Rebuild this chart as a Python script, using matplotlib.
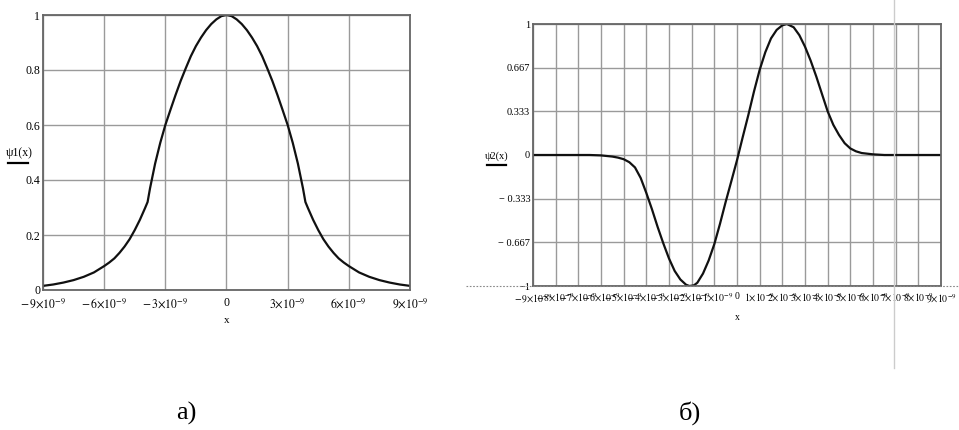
import numpy as np
import matplotlib
matplotlib.use("Agg")
import matplotlib.pyplot as plt
from matplotlib.lines import Line2D

plt.rcParams['mathtext.fontset'] = 'stix'
plt.rcParams['font.family'] = ['Liberation Serif', 'DejaVu Serif']

# ---- data (x in units of 1e-9) ----
x1_n = [-9, -8.5, -8, -7.5, -7, -6.5, -6, -5.75, -5.5, -5.25, -5, -4.75, -4.5, -4.25, -4,
        -3.87, -3.75, -3.5, -3.25, -3, -2.75, -2.5, -2.25, -2, -1.75, -1.5, -1.25, -1,
        -0.75, -0.5, -0.25, 0,
        0.25, 0.5, 0.75, 1, 1.25, 1.5, 1.75, 2, 2.25, 2.5, 2.75, 3, 3.25, 3.5, 3.75, 3.87,
        4, 4.25, 4.5, 4.75, 5, 5.25, 5.5, 5.75, 6, 6.5, 7, 7.5, 8, 8.5, 9]
psi1 = [0.015, 0.02, 0.027, 0.036, 0.048, 0.064, 0.087, 0.10, 0.115, 0.135, 0.158, 0.185,
        0.218, 0.255, 0.297, 0.32, 0.37, 0.46, 0.535, 0.6, 0.655, 0.709, 0.76, 0.806,
        0.85, 0.887, 0.918, 0.945, 0.967, 0.984, 0.996, 1.0,
        0.996, 0.984, 0.967, 0.945, 0.918, 0.887, 0.85, 0.806, 0.76, 0.709, 0.655, 0.6,
        0.535, 0.46, 0.37, 0.32, 0.297, 0.255, 0.218, 0.185, 0.158, 0.135, 0.115, 0.10,
        0.087, 0.064, 0.048, 0.036, 0.027, 0.02, 0.015]

x2_n = [-9, -8, -7, -6.5, -6, -5.5, -5.25, -5, -4.75, -4.5, -4.25, -4, -3.75, -3.5, -3.25,
        -3, -2.75, -2.5, -2.25, -2.1, -1.9, -1.75, -1.5, -1.25, -1, -0.75, -0.5, -0.25,
        0, 0.25, 0.5, 0.75, 1, 1.25, 1.5, 1.75, 2, 2.2, 2.5, 2.75, 3, 3.25, 3.5, 3.75,
        4, 4.25, 4.5, 4.75, 5, 5.25, 5.5, 6, 6.5, 7, 8, 9]
psi2 = [0, 0, 0, 0, -0.003, -0.012, -0.02, -0.032, -0.055, -0.095, -0.175, -0.29, -0.415,
        -0.55, -0.675, -0.79, -0.885, -0.95, -0.99, -1.0, -0.995, -0.975, -0.905, -0.805,
        -0.68, -0.525, -0.358, -0.20, -0.04, 0.135, 0.305, 0.485, 0.65, 0.785, 0.89,
        0.955, 0.99, 1.0, 0.975, 0.915, 0.827, 0.72, 0.598, 0.465, 0.333, 0.23, 0.153,
        0.09, 0.05, 0.028, 0.015, 0.005, 0.0, 0, 0, 0]

x1_ticks_n = [-9, -6, -3, 0, 3, 6, 9]
y1_ticks = [0, 0.2, 0.4, 0.6, 0.8, 1]
y1_labels = ["0", "0.2", "0.4", "0.6", "0.8", "1"]

x2_ticks_n = list(range(-9, 10))
y2_ticks = [-1, -2/3, -1/3, 0, 1/3, 2/3, 1]
y2_labels = ["\u22121", "\u2212 0.667", "\u2212 0.333", "0", "0.333", "0.667", "1"]

SC = 1e-9
x1 = np.array(x1_n) * SC
x2 = np.array(x2_n) * SC


def xlab(v):
    if v == 0:
        return "0"
    if v < 0:
        return r"$-\,%d{\times}10^{-9}$" % (-v)
    return r"$%d{\times}10^{-9}$" % v


W, H = 959, 430
fig = plt.figure(figsize=(W / 100, H / 100), dpi=100)
fig.patch.set_facecolor('white')


def fr(x0, y0, x1p, y1p):
    return [x0 / W, 1 - y1p / H, (x1p - x0) / W, (y1p - y0) / H]


grid_c = '#9a9a9a'
frame_c = '#666666'


def style(ax):
    for s in ax.spines.values():
        s.set_color(frame_c)
        s.set_linewidth(1.3)
    ax.tick_params(length=0, colors='black')
    ax.grid(True, color=grid_c, linewidth=1.0)
    ax.set_axisbelow(True)


# ---- left chart ----
ax1 = fig.add_axes(fr(43, 15, 410, 290))
ax1.plot(x1, psi1, color='#111111', lw=1.6)
ax1.set_xlim(-9 * SC, 9 * SC)
ax1.set_ylim(0, 1)
ax1.set_xticks(np.array(x1_ticks_n) * SC)
ax1.set_xticklabels([xlab(v) for v in x1_ticks_n], fontsize=8.5)
ax1.set_yticks(y1_ticks)
ax1.set_yticklabels(y1_labels, fontsize=8.5)
style(ax1)
ax1.tick_params(axis='x', pad=5)
ax1.tick_params(axis='y', pad=2)
ax1.set_xlabel("x", fontsize=8, labelpad=4)

fig.text(19 / W, 1 - 153 / H, "\u03c81(x)", fontsize=8.5, ha='center', va='center')
fig.add_artist(Line2D([8 / W, 28 / W], [1 - 163 / H, 1 - 163 / H], color='black', lw=1.6))

# ---- right chart ----
ax2 = fig.add_axes(fr(533, 24, 941, 286))
ax2.plot(x2, psi2, color='#111111', lw=1.6)
ax2.set_xlim(-9 * SC, 9 * SC)
ax2.set_ylim(-1, 1)
ax2.set_xticks(np.array(x2_ticks_n) * SC)
ax2.set_xticklabels([xlab(v) for v in x2_ticks_n], fontsize=7)
ax2.set_yticks(y2_ticks)
ax2.set_yticklabels(y2_labels, fontsize=7.5)
style(ax2)
ax2.tick_params(axis='x', pad=4)
ax2.tick_params(axis='y', pad=2)
ax2.set_xlabel("x", fontsize=7, labelpad=6)

fig.text(497 / W, 1 - 156 / H, "\u03c82(x)", fontsize=7.5, ha='center', va='center')
fig.add_artist(Line2D([487 / W, 506 / W], [1 - 165 / H, 1 - 165 / H], color='black', lw=1.6))

# dotted line at bottom of right chart and thin vertical gray line
fig.add_artist(Line2D([466 / W, 959 / W], [1 - 286 / H, 1 - 286 / H], color='#888888',
                      lw=0.8, linestyle=(0, (1.5, 1.5))))
fig.add_artist(Line2D([894 / W, 894 / W], [1 - 0 / H, 1 - 368 / H], color='#cccccc', lw=1.0))

# panel captions
fig.text(186 / W, 1 - 413 / H, "\u0430)", fontsize=19, ha='center', va='center')
fig.text(690 / W, 1 - 413 / H, "\u0431)", fontsize=19, ha='center', va='center')

fig.savefig("out.png", dpi=100, facecolor='white')
